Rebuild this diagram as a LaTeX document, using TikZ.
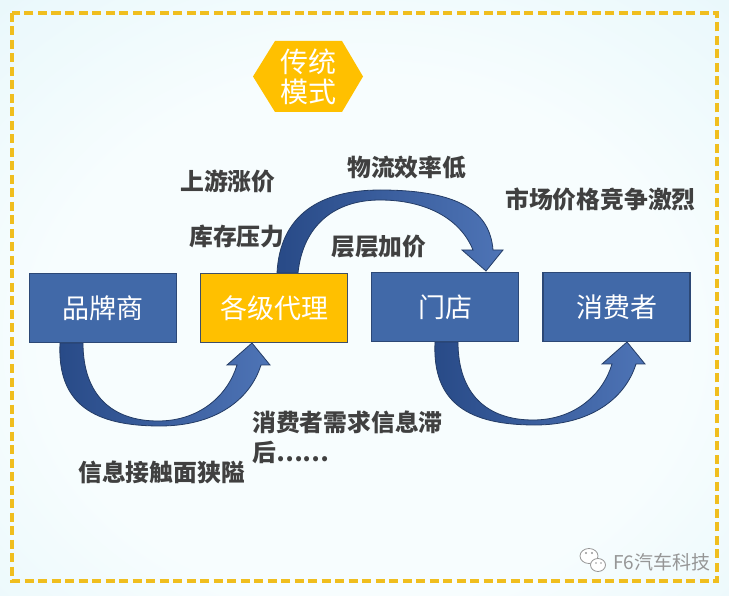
\documentclass[tikz,border=0pt]{standalone}
\usepackage{fontspec}
\newfontfamily\cjk{Noto Sans CJK SC}
\definecolor{boxBlue}{RGB}{65,105,168}
\definecolor{boxEdge}{RGB}{44,72,118}
\definecolor{yel}{RGB}{255,192,0}
\definecolor{yelEdge}{RGB}{62,78,104}
\definecolor{arrDark}{RGB}{40,74,135}
\definecolor{arrLight}{RGB}{78,116,182}
\definecolor{arrEdge}{RGB}{36,60,102}
\definecolor{labelGray}{RGB}{64,64,64}
\definecolor{bord}{RGB}{240,190,30}
\definecolor{bgIn}{RGB}{247,253,254}
\definecolor{bgOut}{RGB}{212,240,247}
\definecolor{wm}{RGB}{150,150,150}
\pgfdeclareradialshading{bgshade}{\pgfpoint{0bp}{-5bp}}{color(0bp)=(bgIn); color(22bp)=(bgIn); color(62bp)=(bgOut); color(80bp)=(bgOut)}
\begin{document}
\begin{tikzpicture}[x=1pt,y=-1pt,
  box/.style={draw=boxEdge, line width=1.5pt, fill=boxBlue, minimum width=147pt, minimum height=69pt, inner sep=0pt, text=white, font=\cjk\fontsize{27}{30}\selectfont},
  ybox/.style={box, fill=yel, draw=yelEdge},
  lbl/.style={text=labelGray, font=\cjk\bfseries\fontsize{23.8}{30}\selectfont, anchor=west, inner sep=0pt, align=left},
  barrow/.style={left color=arrDark, right color=arrLight, draw=arrEdge, line width=0.8pt}
]
\useasboundingbox (0,0) rectangle (729,596);
\shade[shading=bgshade] (0,0) rectangle (729,596);
\draw[bord, line width=3.5pt, dash pattern=on 9pt off 4.5pt] (12,13) rectangle (717,581);

% hexagon
\fill[yel] (253,76.5) -- (275,41) -- (342,41) -- (363,76.5) -- (342,112) -- (275,112) -- cycle;
\node[text=white, font=\cjk\fontsize{28}{30}\selectfont, align=center, inner sep=0pt] (title) at (308,77) {传统\\模式};

% bottom U-arrows
\foreach \dx/\dy in {0/0,375/-1}{
\begin{scope}[shift={(\dx,\dy)}]
\shade[barrow] (60,343) .. controls (57,405) and (95,426) .. (160,426)
   .. controls (215,426) and (250,400) .. (261,365)
   -- (270,365) -- (252,343) -- (227,365) -- (237,365)
   .. controls (228,395) and (200,421) .. (158,421)
   .. controls (112,421) and (83,395) .. (83,343) -- cycle;
\end{scope}
}
% top arrow
\shade[barrow] (277,273) .. controls (280,215) and (320,190) .. (380,190)
   .. controls (460,190) and (490,212) .. (493,250)
   -- (503,250) -- (486,271) -- (462,250) -- (473,250)
   .. controls (460,218) and (425,200) .. (380,200)
   .. controls (335,200) and (303,225) .. (298,273) -- cycle;

% boxes
\node[box]  (brand)  at (103,308)   {品牌商};
\node[ybox] (agent)  at (274,308)   {各级代理};
\node[box]  (store)  at (445,307)   {门店};
\node[box]  (cons)   at (616.5,307) {消费者};

% labels
\node[lbl] (l1) at (180,181) {上游涨价};
\node[lbl] (l2) at (347,167) {物流效率低};
\node[lbl] (l3) at (189,236) {库存压力};
\node[lbl] (l4) at (331,247) {层层加价};
\node[lbl] (l5) at (505,199) {市场价格竞争激烈};
\node[lbl] (l6) at (252,437.5) {消费者需求信息滞\\后……};
\node[lbl] (l7) at (78,472) {信息接触面狭隘};

% watermark
\draw[wm, fill=white, line width=0.8pt] (589,556) ellipse [x radius=9, y radius=7.5];
\draw[wm, fill=white, line width=0.8pt] (598,565) ellipse [x radius=7.5, y radius=6.5];
\fill[wm] (586,553) circle [radius=1.1] (592,553) circle [radius=1.1] (596,563) circle [radius=0.9] (601,563) circle [radius=0.9];
\node[text=wm, font=\cjk\fontsize{19}{22}\selectfont, anchor=west, inner sep=0pt] (wmtext) at (613,562) {F6汽车科技};
\end{tikzpicture}
\end{document}
